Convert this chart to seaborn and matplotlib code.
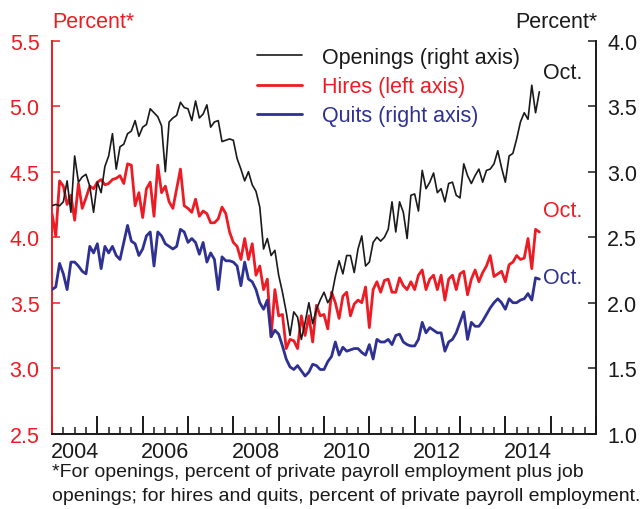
import numpy as np
import pandas as pd
import matplotlib
matplotlib.use('Agg')
import matplotlib.pyplot as plt
import seaborn as sns

# monthly, Jan 2004 - Oct 2014
months = pd.date_range('2004-01-01', '2014-10-01', freq='MS')

# job openings rate, right axis
openings = [2.74, 2.75, 2.74, 2.77, 2.93, 2.69, 3.12, 2.92, 2.96, 2.98, 2.89, 2.69,
            2.92, 2.84, 3.04, 3.12, 3.29, 3.02, 3.19, 3.21, 3.29, 3.31, 3.39, 3.27,
            3.34, 3.36, 3.48, 3.45, 3.42, 3.35, 3.00, 3.38, 3.41, 3.43, 3.53, 3.49,
            3.48, 3.39, 3.54, 3.41, 3.44, 3.51, 3.34, 3.38, 3.39, 3.23, 3.24, 3.25,
            3.24, 3.10, 3.02, 2.93, 3.00, 2.90, 2.85, 2.73, 2.41, 2.49, 2.36, 2.40,
            2.21, 2.08, 1.93, 1.75, 1.93, 1.89, 1.72, 1.85, 2.00, 1.84, 1.95, 2.02,
            2.08, 2.00, 2.05, 2.20, 2.32, 2.22, 2.36, 2.36, 2.23, 2.41, 2.51, 2.28,
            2.31, 2.46, 2.50, 2.47, 2.50, 2.56, 2.77, 2.54, 2.77, 2.69, 2.49, 2.82,
            2.83, 2.70, 3.01, 2.87, 2.92, 2.99, 2.84, 2.87, 2.77, 2.91, 2.92, 2.82,
            2.80, 3.06, 2.97, 2.91, 2.97, 3.02, 2.92, 3.01, 3.02, 3.06, 3.16, 3.03,
            2.92, 3.12, 3.14, 3.25, 3.38, 3.45, 3.40, 3.66, 3.45, 3.61]

# hires rate, left axis
hires = [4.18, 4.01, 4.43, 4.39, 4.25, 4.32, 4.13, 4.41, 4.22, 4.30, 4.39, 4.37,
         4.42, 4.44, 4.40, 4.41, 4.44, 4.45, 4.47, 4.41, 4.56, 4.55, 4.24, 4.34,
         4.15, 4.37, 4.42, 4.16, 4.55, 4.34, 4.39, 4.27, 4.22, 4.37, 4.52, 4.24,
         4.22, 4.19, 4.29, 4.16, 4.20, 4.18, 4.11, 4.11, 4.14, 4.23, 4.18, 4.04,
         3.96, 3.93, 3.83, 3.99, 3.83, 3.95, 3.71, 3.78, 3.60, 3.68, 3.24, 3.60,
         3.40, 3.41, 3.15, 3.22, 3.21, 3.15, 3.40, 3.25, 3.40, 3.20, 3.48, 3.40,
         3.41, 3.30, 3.58, 3.50, 3.38, 3.55, 3.58, 3.40, 3.49, 3.52, 3.50, 3.62,
         3.31, 3.60, 3.66, 3.58, 3.67, 3.68, 3.58, 3.58, 3.69, 3.63, 3.60, 3.66,
         3.60, 3.71, 3.75, 3.60, 3.68, 3.71, 3.60, 3.71, 3.52, 3.68, 3.71, 3.60,
         3.72, 3.74, 3.56, 3.68, 3.75, 3.66, 3.73, 3.78, 3.86, 3.70, 3.72, 3.74,
         3.66, 3.79, 3.81, 3.86, 3.83, 3.84, 3.99, 3.76, 4.06, 4.04]

# quits rate, right axis
quits = [2.10, 2.12, 2.30, 2.22, 2.10, 2.31, 2.31, 2.28, 2.24, 2.22, 2.43, 2.38,
         2.45, 2.26, 2.43, 2.38, 2.43, 2.36, 2.33, 2.46, 2.59, 2.47, 2.45, 2.36,
         2.41, 2.51, 2.54, 2.28, 2.54, 2.51, 2.45, 2.43, 2.41, 2.43, 2.56, 2.54,
         2.46, 2.49, 2.46, 2.37, 2.46, 2.31, 2.38, 2.33, 2.10, 2.35, 2.32, 2.32,
         2.31, 2.28, 2.13, 2.31, 2.18, 2.16, 2.10, 2.00, 1.95, 2.02, 1.74, 1.79,
         1.76, 1.67, 1.57, 1.51, 1.49, 1.52, 1.48, 1.44, 1.47, 1.53, 1.52, 1.49,
         1.49, 1.55, 1.59, 1.70, 1.60, 1.66, 1.63, 1.64, 1.65, 1.65, 1.62, 1.60,
         1.68, 1.57, 1.72, 1.70, 1.70, 1.72, 1.68, 1.75, 1.76, 1.70, 1.68, 1.67,
         1.67, 1.72, 1.85, 1.77, 1.81, 1.79, 1.77, 1.77, 1.63, 1.70, 1.72, 1.77,
         1.85, 1.93, 1.72, 1.85, 1.82, 1.82, 1.86, 1.91, 1.96, 2.00, 2.03, 2.00,
         1.95, 2.03, 2.00, 2.00, 2.02, 2.03, 2.07, 2.02, 2.19, 2.18]

year_labels = ['2004', '2006', '2008', '2010', '2012', '2014']
left_ticks = [2.5, 3.0, 3.5, 4.0, 4.5, 5.0, 5.5]
right_ticks = [1.0, 1.5, 2.0, 2.5, 3.0, 3.5, 4.0]

RED = '#ed1c24'
BLUE = '#2e3192'
BLACK = '#1a1a1a'
FS = 15.5

sns.set_style('white')
plt.rcParams['font.family'] = ['Liberation Sans', 'DejaVu Sans']

df = pd.DataFrame({'x': months.year + (months.month - 1) / 12,
                   'openings': openings, 'hires': hires, 'quits': quits})

fig = plt.figure(figsize=(6.42, 5.10), dpi=100)
ax = fig.add_axes([52 / 642, 1 - 434.7 / 510, 544 / 642, 393 / 510])
ax2 = ax.twinx()

sns.lineplot(data=df, x='x', y='hires', ax=ax, color=RED, lw=2.0)
sns.lineplot(data=df, x='x', y='quits', ax=ax2, color=BLUE, lw=2.0)
sns.lineplot(data=df, x='x', y='openings', ax=ax2, color=BLACK, lw=1.2)

ax.set_xlim(2004, 2016)
ax.set_ylim(2.5, 5.5)
ax2.set_ylim(1.0, 4.0)
ax.set_xlabel('')
ax.set_ylabel('')
ax2.set_ylabel('')

ax.set_yticks(left_ticks, [f'{v:.1f}' for v in left_ticks])
ax2.set_yticks(right_ticks, [f'{v:.1f}' for v in right_ticks])
ax.set_xticks(range(2004, 2017), [''] * 13)
ax.set_xticks(np.arange(2004, 2016.01, 0.25), minor=True)

ax.tick_params(axis='y', direction='in', length=6, width=1.1, colors=RED,
               labelsize=FS, pad=9, left=True)
ax2.tick_params(axis='y', direction='in', length=6, width=1.1, colors=BLACK,
                labelsize=FS, pad=8, right=True)
ax.tick_params(axis='x', which='major', direction='in', length=13, width=1.4,
               color=BLACK, bottom=True)
ax.tick_params(axis='x', which='minor', direction='in', length=5, width=1.1,
               color=BLACK, bottom=True)

# year labels centred in each year
sec = ax.secondary_xaxis('bottom')
sec.set_xticks([int(y) + 0.5 for y in year_labels], year_labels)
sec.tick_params(length=0, labelsize=FS, pad=5, colors=BLACK)
sec.spines['bottom'].set_visible(False)

for a in (ax, ax2):
    a.spines['top'].set_visible(False)
    a.grid(False)
ax.spines['right'].set_visible(False)
ax2.spines['left'].set_visible(False)
ax.spines['left'].set_color(RED)
ax.spines['left'].set_linewidth(1.4)
ax2.spines['right'].set_color(BLACK)
ax2.spines['right'].set_linewidth(1.4)
ax.spines['bottom'].set_color(BLACK)
ax.spines['bottom'].set_linewidth(1.4)
ax2.spines['bottom'].set_visible(False)

lines = [ax2.lines[1], ax.lines[0], ax2.lines[0]]
ax2.legend(lines, ['Openings (right axis)', 'Hires (left axis)', 'Quits (right axis)'],
           loc='upper left', bbox_to_anchor=(257 / 642, 1 - 48 / 510),
           bbox_transform=fig.transFigure, frameon=False, fontsize=FS,
           labelcolor=[BLACK, RED, BLUE], handlelength=2.1, handletextpad=0.9,
           borderpad=0, borderaxespad=0, labelspacing=0.38)

ax.text(2014.83, 5.26, 'Oct.', color=BLACK, fontsize=FS, va='center', ha='left')
ax.text(2014.83, 4.20, 'Oct.', color=RED, fontsize=FS, va='center', ha='left')
ax.text(2014.83, 3.69, 'Oct.', color=BLUE, fontsize=FS, va='center', ha='left')

fig.text(52 / 642, 1 - 22 / 510, 'Percent*', color=RED, fontsize=FS, va='center', ha='left')
fig.text(597 / 642, 1 - 22 / 510, 'Percent*', color=BLACK, fontsize=FS, va='center', ha='right')

fig.text(52 / 642, 1 - 464 / 510,
         '*For openings, percent of private payroll employment plus job\n'
         'openings; for hires and quits, percent of private payroll employment.',
         color=BLACK, fontsize=14, va='top', ha='left', linespacing=1.55)

fig.savefig('out.png', dpi=100)
